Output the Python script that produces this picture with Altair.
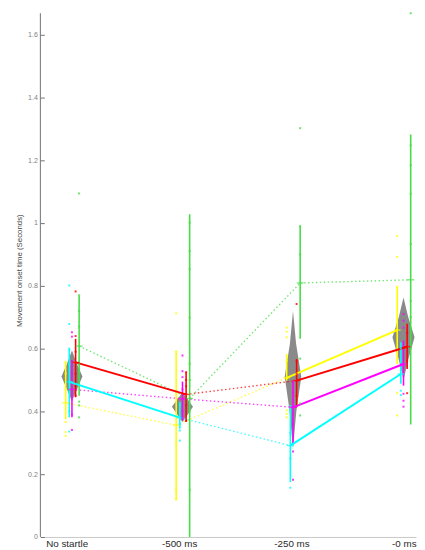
import altair as alt
import pandas as pd

# ---------------- data ----------------
CATEGORIES = ["No startle", "-500 ms", "-250 ms", "-0 ms"]
CAT_POS = [1, 2, 3, 4]
LABEL_POS = [0.952, 1.970, 2.986, 4.003]
X_DOMAIN = [0.7142, 4.1132]
Y_MAX = 1.668
Y_TICKS = [0, 0.2, 0.4, 0.6, 0.8, 1.0, 1.2, 1.4, 1.6]

SERIES = ["yellow", "cyan", "magenta", "red", "green"]
COLORS = ["#ffff00", "#00ffff", "#ff00ff", "#ff0000", "#44dd44"]
OFFSETS = [-0.057, -0.024, 0.0, 0.033, 0.065]

MEAN_YELLOW = [0.427, 0.356, 0.507, 0.659]
MEAN_CYAN = [0.494, 0.380, 0.291, 0.519]
MEAN_MAGENTA = [0.470, 0.440, 0.413, 0.551]
MEAN_RED = [0.556, 0.454, 0.498, 0.606]
MEAN_GREEN = [0.608, 0.441, 0.809, 0.819]

LO_YELLOW = [0.375, 0.117, 0.498, 0.551]
HI_YELLOW = [0.558, 0.593, 0.583, 0.797]
LO_CYAN = [0.381, 0.345, 0.175, 0.488]
HI_CYAN = [0.599, 0.430, 0.420, 0.620]
LO_MAGENTA = [0.381, 0.371, 0.297, 0.482]
HI_MAGENTA = [0.562, 0.495, 0.498, 0.625]
LO_RED = [0.445, 0.366, 0.413, 0.535]
HI_RED = [0.631, 0.525, 0.567, 0.679]
LO_GREEN = [0.450, 0.0, 0.631, 0.358]
HI_GREEN = [0.768, 1.028, 0.990, 1.282]

# segment style between consecutive categories (1->2, 2->3, 3->4)
STYLE_YELLOW = ["dotted", "dotted", "solid"]
STYLE_CYAN = ["solid", "dotted", "solid"]
STYLE_MAGENTA = ["dotted", "dotted", "solid"]
STYLE_RED = ["solid", "dotted", "solid"]
STYLE_GREEN = ["dotted", "dotted", "dotted"]

DOTS_YELLOW = [
    [0.558, 0.366, 0.334, 0.322, 0.52, 0.47],
    [0.712, 0.59, 0.30, 0.15, 0.12],
    [0.667, 0.654, 0.636, 0.56, 0.403, 0.392, 0.381],
    [0.959, 0.892, 0.797, 0.458, 0.387],
]
DOTS_CYAN = [
    [0.801, 0.678, 0.336, 0.60, 0.55, 0.40],
    [0.42, 0.339, 0.307, 0.36],
    [0.40, 0.33, 0.157, 0.25],
    [0.60, 0.466, 0.452],
]
DOTS_MAGENTA = [
    [0.652, 0.638, 0.341, 0.56, 0.52, 0.39],
    [0.578, 0.528, 0.509, 0.47, 0.40, 0.38],
    [0.272, 0.182, 0.46, 0.36],
    [0.71, 0.689, 0.667, 0.456, 0.434, 0.415],
]
DOTS_RED = [
    [0.782, 0.640, 0.59, 0.52, 0.48, 0.45],
    [0.525, 0.50, 0.48, 0.42, 0.37],
    [0.742, 0.56, 0.52, 0.45],
    [0.458, 0.65, 0.56],
]
DOTS_GREEN = [
    [1.094, 0.77, 0.72, 0.67, 0.55, 0.431, 0.419, 0.381],
    [1.001, 0.911, 0.853, 0.699, 0.552, 0.50, 0.40, 0.15],
    [1.302, 0.99, 0.90, 0.568, 0.425, 0.387],
    [1.668, 1.247, 1.184, 1.093, 0.933, 0.752, 0.70, 0.60],
]

# gray kite shapes: profile heights and half-widths (x units)
DIAMOND_Y = [
    [0.432, 0.470, 0.511, 0.552, 0.594],
    [0.366, 0.390, 0.415, 0.438, 0.461],
    [0.280, 0.400, 0.510, 0.615, 0.720],
    [0.500, 0.568, 0.636, 0.700, 0.763],
]
DIAMOND_W = [
    [0.0, 0.045, 0.095, 0.045, 0.0],
    [0.0, 0.048, 0.095, 0.048, 0.0],
    [0.0, 0.030, 0.075, 0.028, 0.0],
    [0.0, 0.045, 0.100, 0.043, 0.0],
]

MEANS = [MEAN_YELLOW, MEAN_CYAN, MEAN_MAGENTA, MEAN_RED, MEAN_GREEN]
LOS = [LO_YELLOW, LO_CYAN, LO_MAGENTA, LO_RED, LO_GREEN]
HIS = [HI_YELLOW, HI_CYAN, HI_MAGENTA, HI_RED, HI_GREEN]
STYLES = [STYLE_YELLOW, STYLE_CYAN, STYLE_MAGENTA, STYLE_RED, STYLE_GREEN]
DOTS = [DOTS_YELLOW, DOTS_CYAN, DOTS_MAGENTA, DOTS_RED, DOTS_GREEN]

# ---------------- tables ----------------
err_rows, seg_rows, dot_rows, dia_rows = [], [], [], []
for si, s in enumerate(SERIES):
    for ci, c in enumerate(CAT_POS):
        xp = c + OFFSETS[si]
        err_rows.append(dict(series=s, x=xp, lo=LOS[si][ci], hi=HIS[si][ci], mean=MEANS[si][ci]))
        for v in DOTS[si][ci]:
            dot_rows.append(dict(series=s, x=xp, y=v))
    for k in range(3):
        sid = f"{s}-{k}"
        for j in (k, k + 1):
            seg_rows.append(dict(series=s, seg=sid, style=STYLES[si][k],
                                 x=CAT_POS[j] + OFFSETS[si], y=MEANS[si][j]))
for ci, c in enumerate(CAT_POS):
    for yv, wv in zip(DIAMOND_Y[ci], DIAMOND_W[ci]):
        dia_rows.append(dict(cat=CATEGORIES[ci], y=yv, xl=c - wv, xr=c + wv))

err_df = pd.DataFrame(err_rows)
seg_df = pd.DataFrame(seg_rows)
dot_df = pd.DataFrame(dot_rows)
dia_df = pd.DataFrame(dia_rows)
solid_df = seg_df[seg_df["style"] == "solid"]
dotted_df = seg_df[seg_df["style"] == "dotted"]

# ---------------- scales / axes ----------------
PLOT_W = 383
PLOT_H = 534
FONT = "Liberation Sans, Arial, sans-serif"
label_expr = (
    "datum.value < 1.5 ? 'No startle' : datum.value < 2.5 ? '-500 ms' : "
    "datum.value < 3.5 ? '-250 ms' : '-0 ms'"
)
xs = alt.Scale(domain=X_DOMAIN, nice=False, zero=False)
ys = alt.Scale(domain=[0, Y_MAX], nice=False, zero=False)
xaxis = alt.Axis(values=LABEL_POS, labelExpr=label_expr, ticks=False, grid=False,
                 domainColor="#c8c8c8", labelFont=FONT, labelFontSize=10,
                 labelColor="#2a2a2a", labelPadding=2, labelBaseline="top",
                 labelFlush=False, labelOverlap=False)
YTITLE = "Movement onset time (Seconds)"
yaxis = alt.Axis(values=Y_TICKS, format="~g", grid=False, domain=False,
                 offset=-4, tickSize=4, tickColor="#707070",
                 labelFont=FONT, labelFontSize=7.2, labelColor="#808080",
                 labelPadding=3, titleFont=FONT, titleFontSize=8,
                 titleFontWeight="normal", titleColor="#444444",
                 titleX=-21, titleY=262, labelFlush=False, labelOverlap=False)
color = alt.Color("series:N", scale=alt.Scale(domain=SERIES, range=COLORS), legend=None)


def X(f):
    return alt.X(f, type="quantitative", scale=xs, axis=xaxis, title=None)


def Y(f):
    return alt.Y(f, type="quantitative", scale=ys, axis=yaxis, title=YTITLE)


diamonds = alt.Chart(dia_df).mark_area(orient="horizontal", color="#808080", opacity=0.92).encode(
    y=Y("y"), x=X("xl"), x2="xr", detail="cat:N"
)
dotted = alt.Chart(dotted_df).mark_line(strokeWidth=1.4, strokeDash=[1.5, 2.5], opacity=0.75).encode(
    x=X("x"), y=Y("y"), color=color, detail="seg:N"
)
rules = alt.Chart(err_df).mark_rule(strokeWidth=1.6).encode(
    x=X("x"), y=Y("lo"), y2="hi", color=color
)
solid = alt.Chart(solid_df).mark_line(strokeWidth=2).encode(
    x=X("x"), y=Y("y"), color=color, detail="seg:N"
)
ticks = alt.Chart(err_df).mark_tick(orient="horizontal", size=7, thickness=1.4).encode(
    x=X("x"), y=Y("mean"), color=color
)
dots = alt.Chart(dot_df).mark_square(size=4, opacity=0.8).encode(
    x=X("x"), y=Y("y"), color=color
)
ydomain = alt.Chart(pd.DataFrame({"x": [X_DOMAIN[0]]})).mark_rule(color="#707070", strokeWidth=1).encode(
    x=X("x"), y=alt.datum(0, scale=ys), y2=alt.datum(Y_MAX)
)

chart = alt.layer(diamonds, dotted, rules, solid, ticks, dots, ydomain).properties(
    width=PLOT_W, height=PLOT_H,
    autosize=alt.AutoSizeParams(type="none"),
    padding={"left": 33, "top": 0, "right": 1, "bottom": 11},
).configure_view(stroke=None)

chart.save("out.html", embed_options={"renderer": "svg", "actions": False})
